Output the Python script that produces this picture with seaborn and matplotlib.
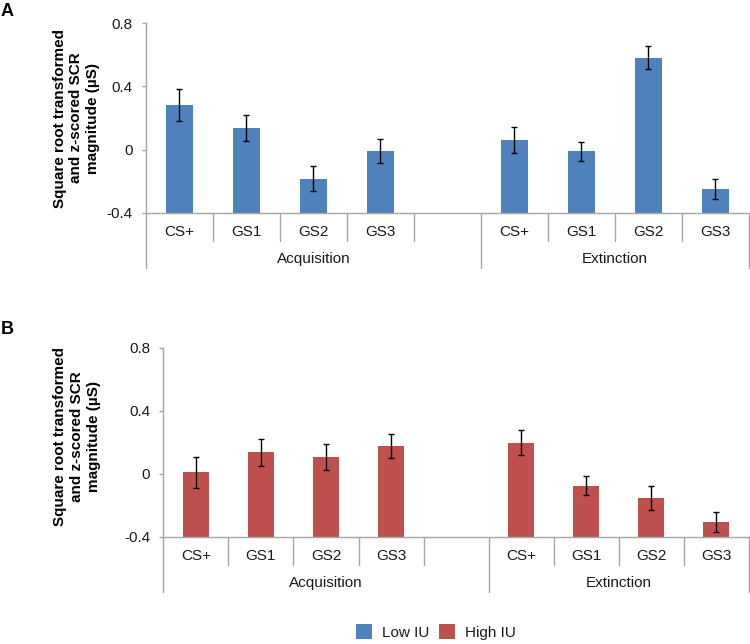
import matplotlib
matplotlib.use("Agg")
import matplotlib.pyplot as plt
import matplotlib.transforms as mtransforms
from matplotlib.patches import Patch
import seaborn as sns
import pandas as pd

# ---------------- data ----------------
slots = ["Acq CS+", "Acq GS1", "Acq GS2", "Acq GS3", "gap",
         "Ext CS+", "Ext GS1", "Ext GS2", "Ext GS3"]
slot_labels = ["CS+", "GS1", "GS2", "GS3", "", "CS+", "GS1", "GS2", "GS3"]
bar_slots = ["Acq CS+", "Acq GS1", "Acq GS2", "Acq GS3",
             "Ext CS+", "Ext GS1", "Ext GS2", "Ext GS3"]
phases = ["Acquisition", "Extinction"]

low_iu_mean = [0.284, 0.137, -0.183, -0.008, 0.061, -0.011, 0.582, -0.247]
low_iu_sem = [0.100, 0.085, 0.080, 0.076, 0.080, 0.058, 0.075, 0.062]
high_iu_mean = [0.009, 0.136, 0.106, 0.176, 0.199, -0.074, -0.154, -0.306]
high_iu_sem = [0.100, 0.085, 0.082, 0.074, 0.081, 0.058, 0.076, 0.062]

yticks = [-0.4, 0, 0.4, 0.8]
ytick_labels = ["-0.4", "0", "0.4", "0.8"]
ylabel = "Square root transformed\nand z-scored SCR\nmagnitude (\u00b5S)"
legend_labels = ["Low IU", "High IU"]
panel_letters = ["A", "B"]

BLUE = "#4F81BD"
RED = "#C0504D"
GRAY = "#A6A6A6"
TXT = "#1a1a1a"
FS = 11

sns.set_theme(style="white")
plt.rcParams["font.family"] = ["Liberation Sans", "DejaVu Sans"]

W, H = 750, 644
fig = plt.figure(figsize=(W / 100, H / 100), dpi=100)


def px_axes(left, top, right, bottom):
    return fig.add_axes([left / W, 1 - bottom / H, (right - left) / W, (bottom - top) / H])


def draw_panel(ax, means, sems, color, axh_px):
    df = pd.DataFrame({"slot": bar_slots, "value": means})
    sns.barplot(data=df, x="slot", y="value", order=slots, color=color,
                saturation=1, width=0.4, errorbar=None, ax=ax, linewidth=0)
    ymin = yticks[0]
    lookup = {slots.index(s): v for s, v in zip(bar_slots, means)}
    # Excel style: bars start at the category axis crossing (-0.4)
    for p in ax.patches:
        idx = int(round(p.get_x() + p.get_width() / 2))
        v = lookup[idx]
        p.set_y(ymin)
        p.set_height(v - ymin)
    ax.errorbar([slots.index(s) for s in bar_slots], means, yerr=sems,
                fmt="none", ecolor="black", elinewidth=1, capsize=2.5, capthick=1)
    ax.set_xlim(-0.5, len(slots) - 0.5)
    ax.set_ylim(yticks[0], yticks[-1])
    ax.set_yticks(yticks)
    ax.set_yticklabels(ytick_labels)
    ax.set_xticks([])
    ax.set_xlabel("")
    ax.set_ylabel("")
    for s in ["top", "right"]:
        ax.spines[s].set_visible(False)
    for s in ["left", "bottom"]:
        ax.spines[s].set_color(GRAY)
        ax.spines[s].set_linewidth(1)
    ax.tick_params(axis="y", which="both", left=True, length=3, width=1,
                   color=GRAY, pad=6.5, labelsize=FS, labelcolor=TXT, direction="out")
    trans = mtransforms.blended_transform_factory(ax.transData, ax.transAxes)
    short = 28 / axh_px
    long_ = 55 / axh_px
    for x in [0.5, 1.5, 2.5, 3.5, 5.5, 6.5, 7.5]:
        ax.plot([x, x], [0, -short], transform=trans, clip_on=False, color=GRAY, lw=1)
    for x in [-0.5, 4.5, 8.5]:
        ax.plot([x, x], [0, -long_], transform=trans, clip_on=False, color=GRAY, lw=1)
    for i, lab in enumerate(slot_labels):
        ax.text(i, -18.5 / axh_px, lab, transform=trans, ha="center", va="center",
                fontsize=FS, color=TXT)
    ax.text(2.0, -46 / axh_px, phases[0], transform=trans, ha="center", va="center",
            fontsize=FS, color=TXT)
    ax.text(6.5, -46 / axh_px, phases[1], transform=trans, ha="center", va="center",
            fontsize=FS, color=TXT)


axA = px_axes(145.7, 23, 749, 213)
draw_panel(axA, low_iu_mean, low_iu_sem, BLUE, 190)
axB = px_axes(163.3, 347.7, 749, 537)
draw_panel(axB, high_iu_mean, high_iu_sem, RED, 189.3)

# y-axis labels
fig.text(76.5 / W, 1 - 118 / H, ylabel, rotation=90, ha="center", va="center",
         multialignment="center", fontsize=11, fontweight="bold", color="black",
         linespacing=1.25)
fig.text(77 / W, 1 - 437 / H, ylabel, rotation=90, ha="center", va="center",
         multialignment="center", fontsize=11, fontweight="bold", color="black",
         linespacing=1.25)

# panel letters
fig.text(1 / W, 1 - 3 / H, panel_letters[0], ha="left", va="top", fontsize=13,
         fontweight="bold", color="black")
fig.text(1 / W, 1 - 321 / H, panel_letters[1], ha="left", va="top", fontsize=13,
         fontweight="bold", color="black")

handles = [Patch(facecolor=BLUE, edgecolor="none", label=legend_labels[0]),
           Patch(facecolor=RED, edgecolor="none", label=legend_labels[1])]
leg = fig.legend(handles=handles, loc="center", bbox_to_anchor=(436 / W, 1 - 632 / H),
                 ncol=2, frameon=False, handlelength=1.05, handleheight=1.05,
                 handletextpad=0.65, columnspacing=0.6, fontsize=FS, borderpad=0)
for t in leg.get_texts():
    t.set_color(TXT)

fig.savefig("out.png", dpi=100, facecolor="white")
